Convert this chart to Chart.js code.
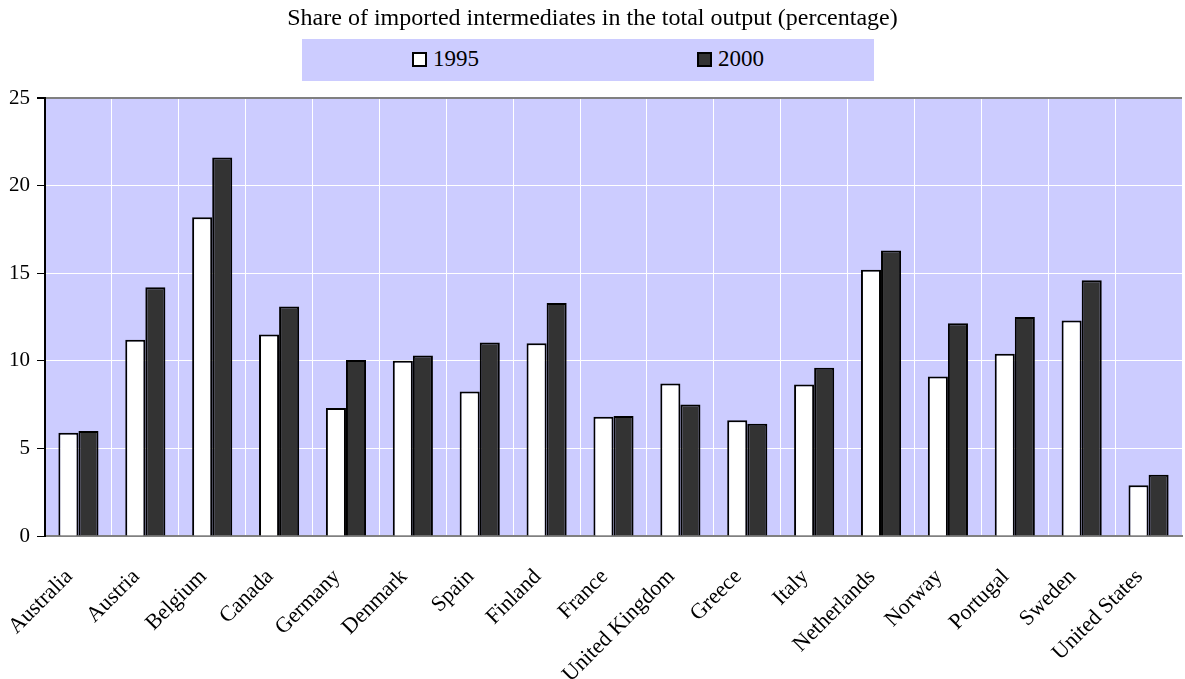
<!DOCTYPE html>
<html>
<head>
<meta charset="utf-8">
<script src="https://cdn.jsdelivr.net/npm/chart.js@4/dist/chart.umd.min.js"></script>
<style>
  body { margin: 0; background: #fff; font-family: "Liberation Serif", "Times New Roman", serif; }
  #wrap { position: relative; width: 1185px; height: 679px; }
  #title { position: absolute; left: 0; width: 1185px; top: 4px; text-align: center; font-size: 24px; color: #000; white-space: nowrap; }
  #legend { position: absolute; left: 302px; top: 39px; width: 572px; height: 42px; background: #ccccff; font-size: 23px; }
  .box { position: absolute; top: 13px; width: 11px; height: 11px; border: 2px solid #000; }
  .txt { position: absolute; top: 5px; line-height: 30px; }
  canvas { position: absolute; left: 0; top: 0; }
</style>
</head>
<body>
<div id="wrap">
  <canvas id="chart" width="1185" height="679"></canvas>
  <div id="title">Share of imported intermediates in the total output (percentage)</div>
  <div id="legend">
    <span class="box" style="left:110px;background:#fff"></span><span class="txt" style="left:131px">1995</span>
    <span class="box" style="left:395px;background:#333"></span><span class="txt" style="left:416px">2000</span>
  </div>
</div>
<script>
// data
const countries = ["Australia", "Austria", "Belgium", "Canada", "Germany", "Denmark", "Spain", "Finland",
  "France", "United Kingdom", "Greece", "Italy", "Netherlands", "Norway", "Portugal", "Sweden", "United States"];
const share1995 = [5.9, 11.2, 18.2, 11.5, 7.3, 10.0, 8.25, 11.0, 6.8, 8.7, 6.6, 8.65, 15.2, 9.1, 10.4, 12.3, 2.9];
const share2000 = [6.0, 14.2, 21.6, 13.1, 10.05, 10.3, 11.05, 13.3, 6.85, 7.5, 6.4, 9.6, 16.3, 12.15, 12.5, 14.6, 3.5];
const yTicks = [0, 5, 10, 15, 20, 25];

// plot background
const plotBg = {
  id: "plotBg",
  beforeDraw(chart) {
    const { ctx, chartArea: a } = chart;
    ctx.save();
    ctx.fillStyle = "#ccccff";
    ctx.fillRect(a.left, a.top, a.right - a.left, a.bottom - a.top);
    ctx.restore();
  },
};

new Chart(document.getElementById("chart"), {
  type: "bar",
  data: {
    labels: countries,
    datasets: [
      { label: "1995", data: share1995, backgroundColor: "#ffffff", borderColor: "#000", borderWidth: 2 },
      { label: "2000", data: share2000, backgroundColor: "#333333", borderColor: "#000", borderWidth: 2 },
    ],
  },
  options: {
    responsive: false,
    animation: false,
    layout: { padding: { top: 98, right: 3, left: 0, bottom: 0 } },
    datasets: { bar: { categoryPercentage: 0.6, barPercentage: 1.0 } },
    scales: {
      x: {
        grid: { color: "#ffffff", lineWidth: 1, drawTicks: false, offset: true },
        border: { color: "#808080", width: 2 },
        ticks: {
          color: "#000",
          font: { family: "Liberation Serif", size: 22 },
          minRotation: 45,
          maxRotation: 45,
          autoSkip: false,
          padding: 28,
          labelOffset: -9,
        },
        afterFit(scale) {
          scale.height = 143;
          scale.paddingLeft = 0;
          scale.paddingRight = 0;
        },
      },
      y: {
        min: 0,
        max: 25,
        afterBuildTicks(scale) { scale.ticks = yTicks.map(v => ({ value: v })); },
        grid: {
          color: ctx => (ctx.tick && (ctx.tick.value === 25) ? "#808080" : "#ffffff"),
          lineWidth: ctx => (ctx.tick && ctx.tick.value === 25 ? 2 : 1),
          tickColor: "#000",
          tickLength: 8,
        },
        border: { color: "#000", width: 2 },
        ticks: { color: "#000", font: { family: "Liberation Serif", size: 21 }, padding: 7 },
        afterFit(scale) { scale.width = 45; },
      },
    },
    plugins: { legend: { display: false }, tooltip: { enabled: false } },
  },
  plugins: [plotBg],
});
</script>
</body>
</html>
